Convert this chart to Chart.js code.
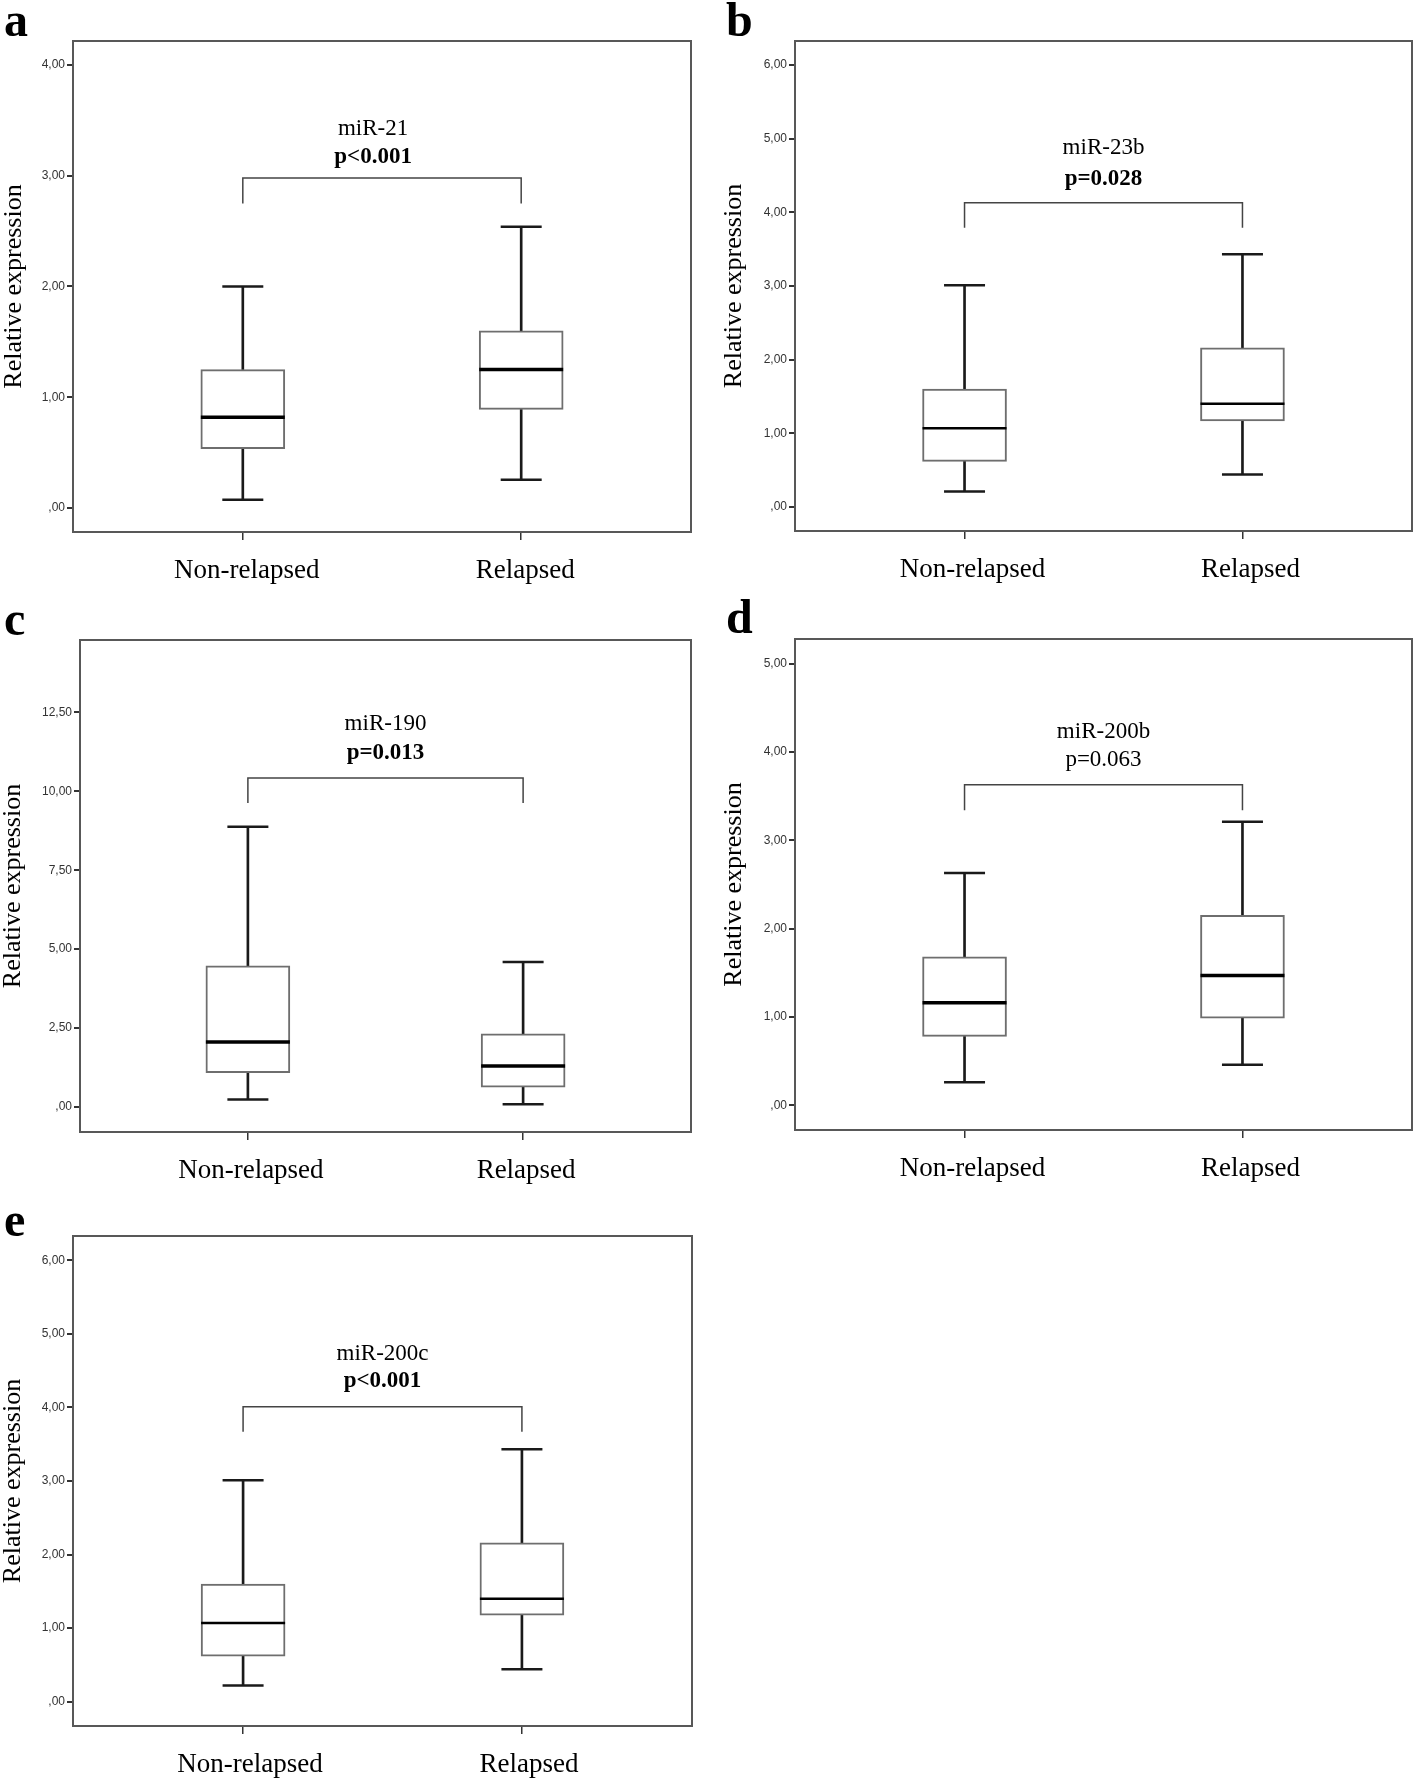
<!DOCTYPE html>
<html>
<head>
<meta charset="utf-8">
<title>Relative expression by relapse status</title>
<script src="https://cdn.jsdelivr.net/npm/chart.js@4.4.1/dist/chart.umd.min.js"></script>
<style>
  html, body { margin: 0; padding: 0; background: #fff; }
  #page { position: relative; width: 1418px; height: 1782px; background: #fff; overflow: hidden; }
  #page canvas { position: absolute; }
  .letter { position: absolute; font: bold 48px/48px 'Liberation Serif', 'Times New Roman', serif; color: #000; }
</style>
</head>
<body>
<div id="page"></div>
<script>
const groups = ['Non-relapsed', 'Relapsed'];
const panelLetters = ['a', 'b', 'c', 'd', 'e'];
const mirNames = ['miR-21', 'miR-23b', 'miR-190', 'miR-200b', 'miR-200c'];
const pValues = ['p<0.001', 'p=0.028', 'p=0.013', 'p=0.063', 'p<0.001'];
const pBold = [true, true, true, false, true];

// box plot stats per panel, [Non-relapsed, Relapsed]
const whiskerLow = [[0.075, 0.255], [0.21, 0.44], [0.24, 0.085], [0.26, 0.46], [0.22, 0.44]];
const q1 = [[0.535, 0.89], [0.62, 1.17], [1.09, 0.63], [0.78, 0.985], [0.62, 1.175]];
const median = [[0.82, 1.25], [1.07, 1.40], [2.06, 1.30], [1.16, 1.47], [1.07, 1.40]];
const q3 = [[1.25, 1.60], [1.60, 2.16], [4.47, 2.32], [1.68, 2.15], [1.60, 2.16]];
const whiskerHigh = [[2.00, 2.54], [3.01, 3.43], [8.88, 4.59], [2.63, 3.21], [3.01, 3.43]];

const yTicks = [
  [0, 1, 2, 3, 4],
  [0, 1, 2, 3, 4, 5, 6],
  [0, 2.5, 5, 7.5, 10, 12.5],
  [0, 1, 2, 3, 4, 5],
  [0, 1, 2, 3, 4, 5, 6]
];
const yTickLabels = [
  [',00', '1,00', '2,00', '3,00', '4,00'],
  [',00', '1,00', '2,00', '3,00', '4,00', '5,00', '6,00'],
  [',00', '2,50', '5,00', '7,50', '10,00', '12,50'],
  [',00', '1,00', '2,00', '3,00', '4,00', '5,00'],
  [',00', '1,00', '2,00', '3,00', '4,00', '5,00', '6,00']
];
const yMin = [-0.217, -0.326, -0.79, -0.28, -0.33];
const yMax = [4.217, 6.326, 14.79, 5.28, 6.33];

// comparison bracket and its two text lines, in axis units
const bracketLeg = [2.75, 3.79, 9.63, 3.34, 3.67];
const bracketBar = [2.98, 4.13, 10.42, 3.63, 4.01];
const nameLine = [3.37, 4.79, 11.93, 4.16, 4.65];
const pLine = [3.115, 4.37, 11.02, 3.84, 4.28];

// where each panel sits on the page (area = chart frame inside the canvas)
const panels = [
  { left: 0, top: 0, w: 709, h: 600, area: [73, 41, 691, 532], padL: 1, letter: [4, -4], textX: 1.468, labelShift: 4, medianW: 3.5 },
  { left: 709, top: 0, w: 709, h: 600, area: [86, 41, 703, 531], padL: 12, letter: [726, -4], textX: 1.5, labelShift: 8, medianW: 2.5 },
  { left: 0, top: 600, w: 709, h: 600, area: [80, 40, 691, 532], padL: 0, letter: [4, 595], textX: 1.5, labelShift: 3, medianW: 3.5 },
  { left: 709, top: 600, w: 709, h: 600, area: [86, 39, 703, 530], padL: 12, letter: [726, 593], textX: 1.5, labelShift: 8, medianW: 3.5 },
  { left: 0, top: 1200, w: 709, h: 582, area: [73, 36, 692, 526], padL: 0, letter: [4, 1196], textX: 1.5, labelShift: 7, medianW: 2.5 }
];

const framePlugin = {
  id: 'frame',
  beforeDatasetsDraw(chart) {
    const { ctx, chartArea: a } = chart;
    ctx.save();
    ctx.strokeStyle = '#585858';
    ctx.lineWidth = 2;
    ctx.strokeRect(a.left, a.top, a.right - a.left, a.bottom - a.top);
    ctx.restore();
  }
};

const comparePlugin = {
  id: 'compare',
  afterDatasetsDraw(chart, args, opts) {
    const { ctx, scales } = chart;
    const x = scales.x.getPixelForValue(opts.x);
    ctx.save();
    ctx.fillStyle = '#000';
    ctx.textAlign = 'center';
    ctx.textBaseline = 'alphabetic';
    ctx.font = "23px 'Liberation Serif'";
    ctx.fillText(opts.name, x, scales.y.getPixelForValue(opts.nameY));
    ctx.font = (opts.bold ? 'bold ' : '') + "23px 'Liberation Serif'";
    ctx.fillText(opts.p, x, scales.y.getPixelForValue(opts.pY));
    ctx.restore();
  }
};

const pts = vals => vals.map((v, k) => ({ x: k + 1, y: v }));
const span = (lo, hi) => lo.map((v, k) => ({ x: k + 1, y: [v, hi[k]] }));

const page = document.getElementById('page');

panels.forEach((pn, i) => {
  const canvas = document.createElement('canvas');
  canvas.width = pn.w;
  canvas.height = pn.h;
  canvas.style.left = pn.left + 'px';
  canvas.style.top = pn.top + 'px';
  canvas.style.width = pn.w + 'px';
  canvas.style.height = pn.h + 'px';
  page.appendChild(canvas);

  const letter = document.createElement('div');
  letter.className = 'letter';
  letter.textContent = panelLetters[i];
  letter.style.left = pn.letter[0] + 'px';
  letter.style.top = pn.letter[1] + 'px';
  page.appendChild(letter);

  const capStyle = { type: 'line', showLine: false, pointStyle: 'line', pointRadius: 20.5, pointBorderWidth: 2.5, pointBorderColor: '#1a1a1a' };
  const whiskerStyle = { type: 'bar', backgroundColor: '#1a1a1a', barThickness: 2, maxBarThickness: 2, grouped: false, borderWidth: 0 };

  new Chart(canvas, {
    type: 'line',
    data: {
      datasets: [
        { type: 'line', data: pts(median[i]), showLine: false, pointStyle: 'line', pointRadius: 42, pointBorderWidth: pn.medianW, pointBorderColor: '#000' },
        { type: 'bar', data: span(q1[i], q3[i]), backgroundColor: '#fff', borderColor: '#6e6e6e', borderWidth: 2, borderSkipped: false, barThickness: 84, maxBarThickness: 84, grouped: false },
        Object.assign({ data: span(whiskerLow[i], q1[i]) }, whiskerStyle),
        Object.assign({ data: span(q3[i], whiskerHigh[i]) }, whiskerStyle),
        Object.assign({ data: pts(whiskerLow[i]) }, capStyle),
        Object.assign({ data: pts(whiskerHigh[i]) }, capStyle),
        {
          type: 'line',
          data: [
            { x: 1, y: bracketLeg[i] }, { x: 1, y: bracketBar[i] },
            { x: 2, y: bracketBar[i] }, { x: 2, y: bracketLeg[i] }
          ],
          borderColor: '#444', borderWidth: 1.5, pointRadius: 0, fill: false, tension: 0
        }
      ]
    },
    options: {
      responsive: false,
      animation: false,
      events: [],
      layout: { autoPadding: false, padding: { left: pn.padL, top: pn.area[1], right: pn.w - pn.area[2], bottom: 0 } },
      plugins: {
        legend: { display: false },
        tooltip: { enabled: false },
        compare: { name: mirNames[i], p: pValues[i], bold: pBold[i], nameY: nameLine[i], pY: pLine[i], x: pn.textX }
      },
      scales: {
        x: {
          type: 'linear',
          min: 0.39,
          max: 2.61,
          offset: false,
          afterBuildTicks: s => { s.ticks = groups.map((g, k) => ({ value: k + 1 })); },
          afterFit: s => { s.height = pn.h - pn.area[3]; },
          grid: { display: true, drawOnChartArea: false, drawTicks: true, tickLength: 8, color: '#333', lineWidth: 1.5, offset: false },
          border: { display: false },
          ticks: {
            autoSkip: false, maxRotation: 0, padding: 15, color: '#000', labelOffset: pn.labelShift,
            font: { family: 'Liberation Serif', size: 27 },
            callback: (v, k) => groups[k]
          }
        },
        y: {
          type: 'linear',
          min: yMin[i],
          max: yMax[i],
          afterBuildTicks: s => { s.ticks = yTicks[i].map(v => ({ value: v })); },
          afterFit: s => { s.width = pn.area[0] - pn.padL; },
          grid: { display: true, drawOnChartArea: false, drawTicks: true, tickLength: 6, color: '#333', lineWidth: 2 },
          border: { display: false },
          ticks: {
            autoSkip: false, padding: 2, color: '#333',
            font: { family: 'Liberation Sans', size: 12 },
            callback: (v, k) => yTickLabels[i][k]
          },
          title: {
            display: true, text: 'Relative expression', color: '#000', padding: 0,
            font: { family: 'Liberation Serif', size: 26, lineHeight: 1 }
          }
        }
      }
    },
    plugins: [framePlugin, comparePlugin]
  });
});
</script>
</body>
</html>
